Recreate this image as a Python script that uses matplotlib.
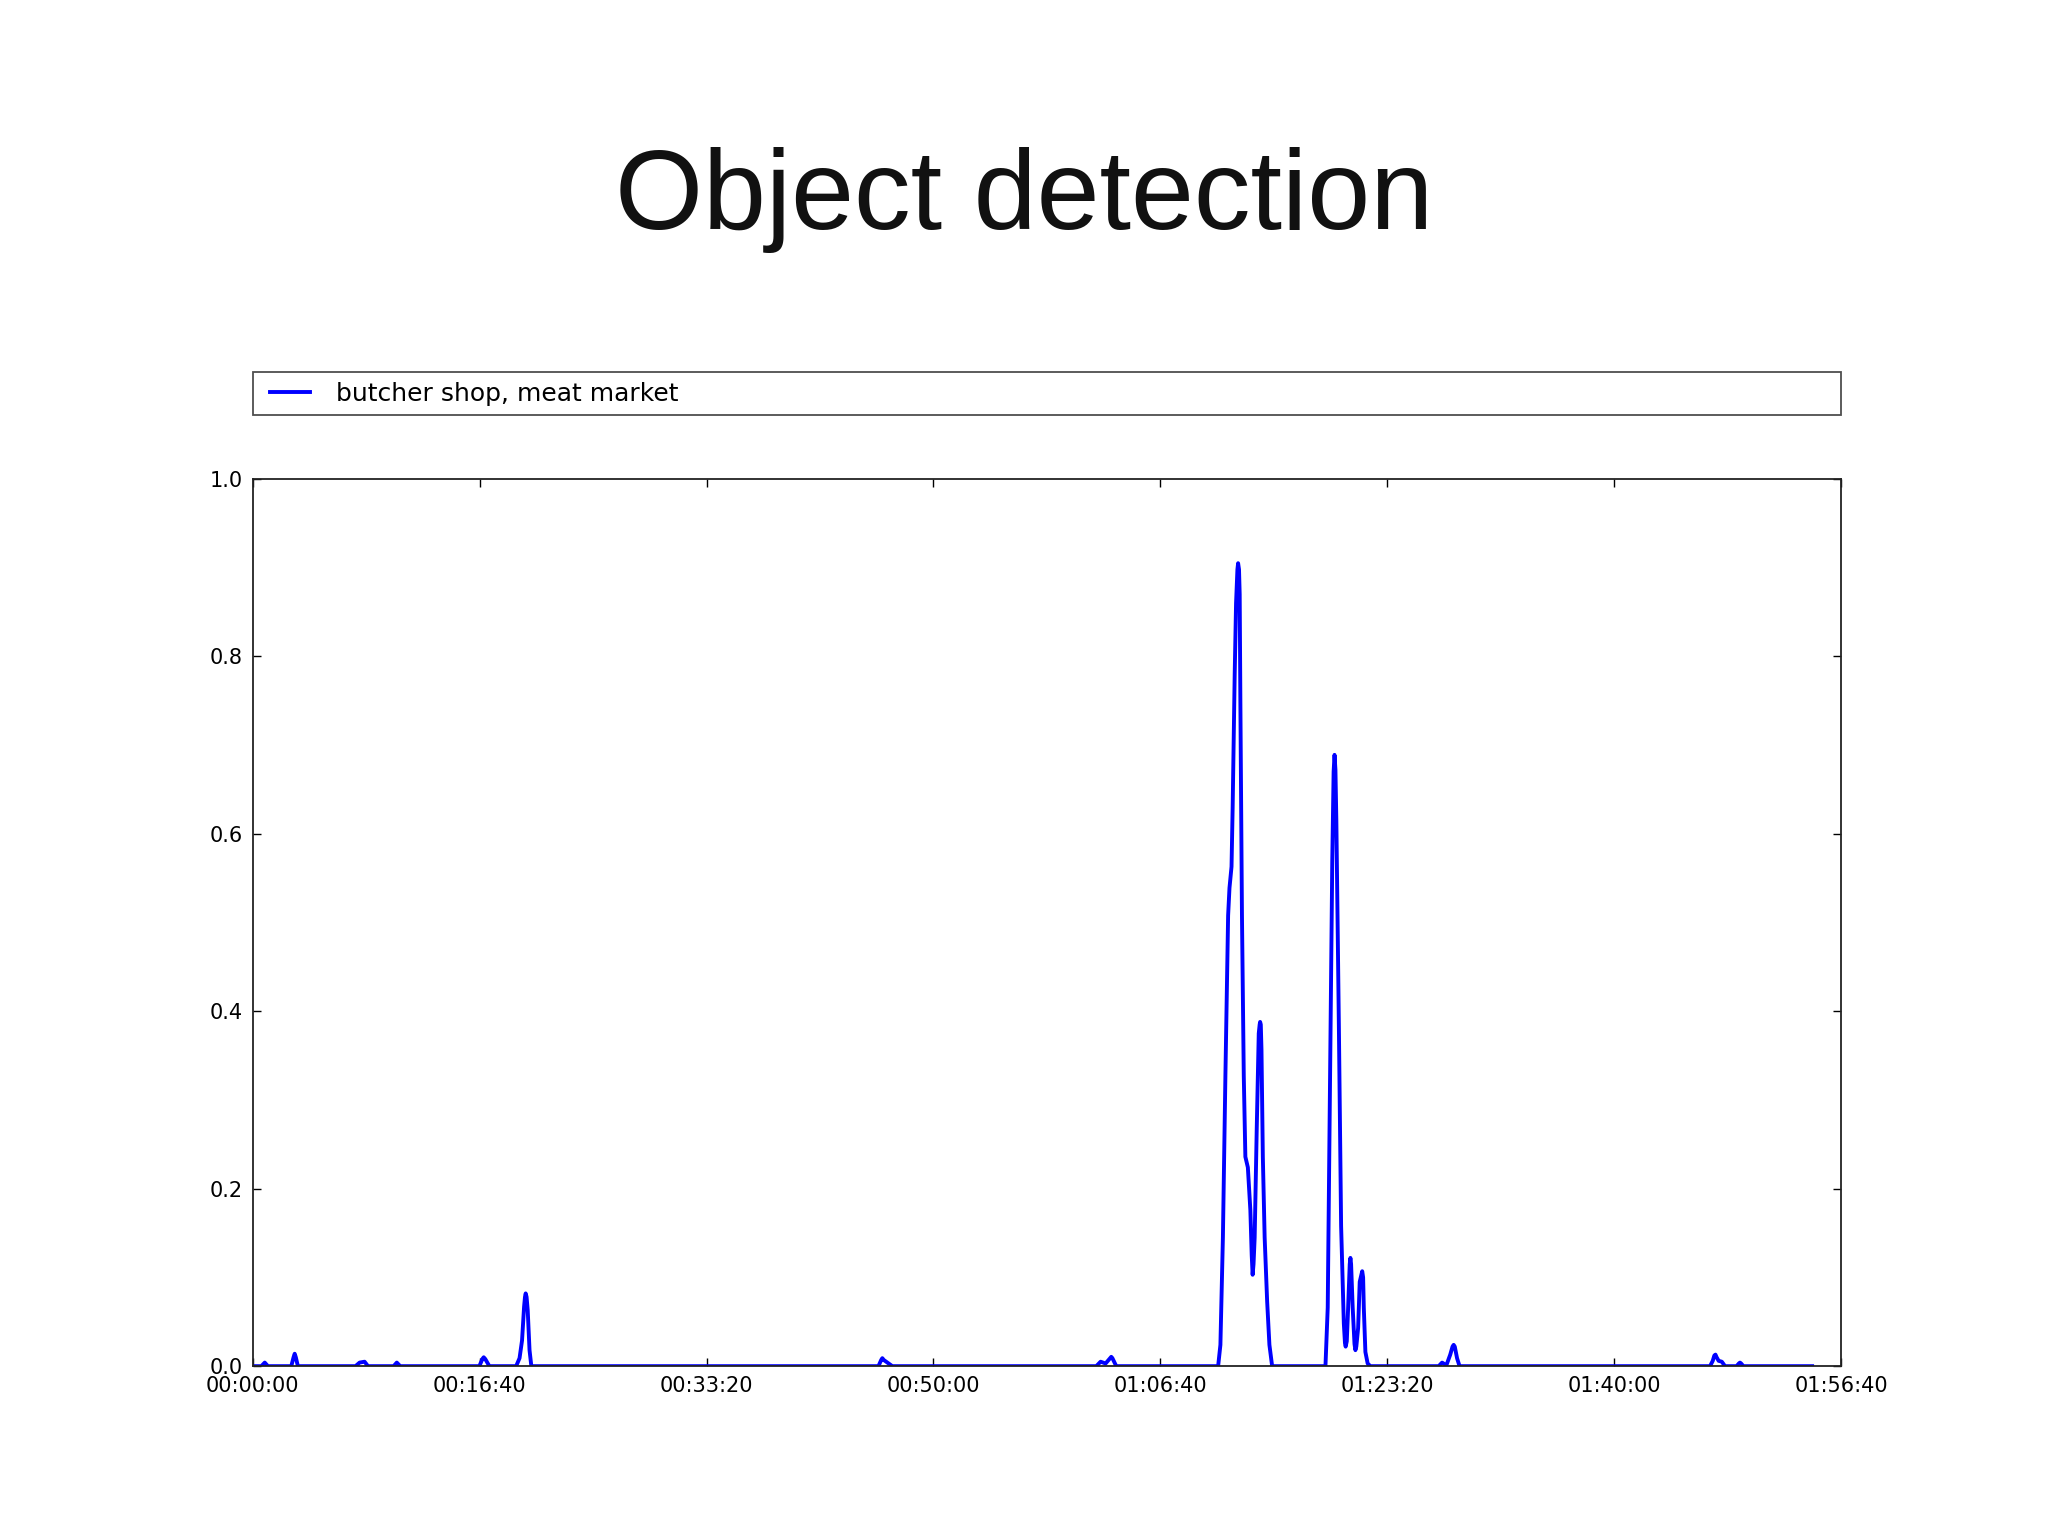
"""
Object detection: score over time for the class 'butcher shop, meat market'.
"""

import matplotlib
matplotlib.use("Agg")
import matplotlib.pyplot as plt
from matplotlib.lines import Line2D
from matplotlib.legend_handler import HandlerLine2D
from matplotlib.ticker import FuncFormatter, MultipleLocator

# ── Data (seconds into the video, detection score) ──────────────────────────
label = "butcher shop, meat market"

t_sec = [
    0, 38, 53, 67,                                  # small bumps at the start
    170, 180, 185, 190, 199,
    453, 471, 493, 508,
    621, 635, 650,
    999, 1012, 1018, 1025, 1043,
    1161, 1176, 1187, 1196, 1200, 1203, 1207, 1212, 1220, 1228,  # bump near 00:20
    2758, 2770, 2775, 2781, 2819,
    3718, 3737, 3759, 3779, 3784, 3789, 3806,
    4255, 4265, 4276, 4287, 4299, 4305, 4314, 4319, 4328, 4334, 4340, 4343,  # main peak
    4347, 4350, 4353, 4360, 4368, 4375, 4386, 4397, 4403, 4407, 4411, 4416,
    4425, 4434, 4438, 4440, 4443, 4446, 4452, 4460, 4471, 4481, 4493,
    4728, 4738, 4747, 4758, 4764, 4768, 4772, 4776, 4787, 4797, 4809, 4814, 4817,  # second peak
    4822, 4828, 4835, 4838, 4841, 4848, 4856, 4860, 4864, 4872, 4879, 4890,
    4894, 4897, 4904, 4914, 4926,
    5227, 5242, 5261, 5278, 5288, 5293, 5298, 5308, 5319,
    6423, 6435, 6442, 6447, 6452, 6461, 6475, 6489,
    6540, 6550, 6555, 6560, 6570,
    6873,
]

score = [
    0.0, 0.0, 0.004, 0.0,
    0.0, 0.010, 0.014, 0.010, 0.0,
    0.0, 0.004, 0.005, 0.0,
    0.0, 0.004, 0.0,
    0.0, 0.008, 0.010, 0.008, 0.0,
    0.0, 0.009, 0.029, 0.067, 0.078, 0.082, 0.078, 0.063, 0.018, 0.0,
    0.0, 0.007, 0.009, 0.007, 0.0,
    0.0, 0.005, 0.003, 0.009, 0.0105, 0.009, 0.0,
    0.0, 0.024, 0.145, 0.327, 0.508, 0.539, 0.563, 0.630, 0.780, 0.860, 0.898, 0.905,
    0.898, 0.870, 0.750, 0.508, 0.327, 0.236, 0.224, 0.176, 0.125, 0.103, 0.115, 0.145,
    0.266, 0.375, 0.385, 0.388, 0.385, 0.357, 0.236, 0.145, 0.073, 0.024, 0.0,
    0.0, 0.066, 0.295, 0.569, 0.670, 0.689, 0.672, 0.615, 0.386, 0.158, 0.048, 0.026, 0.022,
    0.028, 0.066, 0.115, 0.122, 0.115, 0.066, 0.025, 0.018, 0.022, 0.043, 0.095, 0.107,
    0.100, 0.066, 0.016, 0.003, 0.0,
    0.0, 0.004, 0.001, 0.013, 0.022, 0.024, 0.022, 0.009, 0.0,
    0.0, 0.006, 0.012, 0.013, 0.010, 0.006, 0.005, 0.0,
    0.0, 0.003, 0.004, 0.003, 0.0,
    0.0,
]

x_ticks = [0, 1000, 2000, 3000, 4000, 5000, 6000, 7000]


def hhmmss(s, pos=None):
    s = int(round(s))
    return f"{s // 3600:02d}:{(s % 3600) // 60:02d}:{s % 60:02d}"


# ── Figure ───────────────────────────────────────────────────────────────────
fig = plt.figure(figsize=(20.48, 15.35), dpi=100)
fig.text(0.500, 0.851, "Object detection", ha="center", va="baseline",
         fontsize=81.5, family="Liberation Sans", color="#111111")

ax = fig.add_axes([0.1234, 0.110, 0.7755, 0.578])
ax.plot(t_sec, score, color="#0000ff", lw=2.8, label=label,
        solid_joinstyle="round")

ax.set_xlim(0, 7000)
ax.set_ylim(0, 1.0)
ax.set_xticks(x_ticks)
ax.xaxis.set_major_formatter(FuncFormatter(hhmmss))
ax.yaxis.set_major_locator(MultipleLocator(0.2))
ax.yaxis.set_major_formatter(FuncFormatter(lambda v, p: f"{v:.1f}"))
ax.tick_params(direction="in", top=True, right=True, length=6, width=1,
               labelsize=15, pad=7)
for sp in ax.spines.values():
    sp.set_linewidth(1.3)
    sp.set_color("#222222")

leg = ax.legend(loc="lower left", bbox_to_anchor=(0, 1.072, 1, 0.05),
                mode="expand", borderaxespad=0, fontsize=18, fancybox=False,
                handlelength=1.9, handletextpad=1.05, borderpad=0.38,
                edgecolor="#222222",
                handler_map={Line2D: HandlerLine2D(xpad=0.33)})
leg.get_frame().set_linewidth(1.3)

fig.savefig("out.png", dpi=100)
